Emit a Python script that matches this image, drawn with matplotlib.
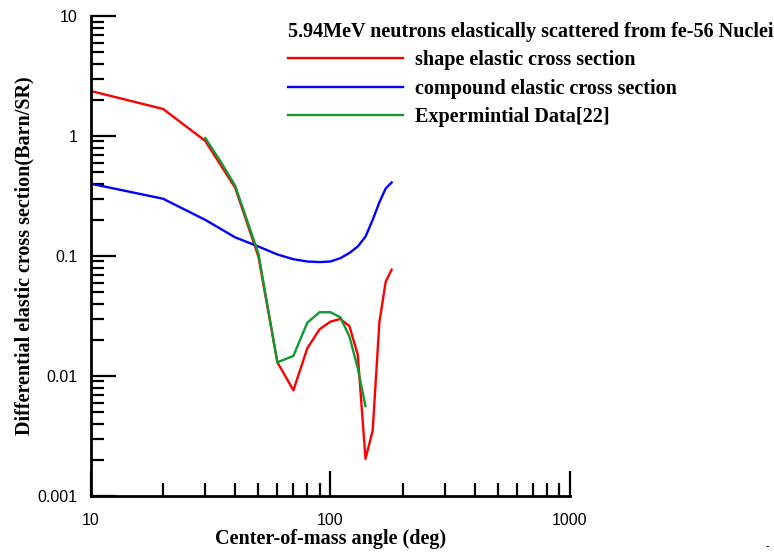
import numpy as np
import matplotlib
matplotlib.use('Agg')
import matplotlib.pyplot as plt
from matplotlib.ticker import LogLocator, FuncFormatter, NullFormatter

# angles (deg) and cross sections (barn/sr)
angle = [10, 20, 30, 40, 50, 60, 70, 80, 90, 100, 110, 120, 130, 140, 150, 160, 170, 180]
shape_xs = [2.37, 1.68, 0.91, 0.37, 0.099, 0.013, 0.0076, 0.017, 0.0245, 0.0284,
            0.0299, 0.026, 0.015, 0.00204, 0.0035, 0.028, 0.061, 0.077]
compound_xs = [0.40, 0.30, 0.20, 0.143, 0.12, 0.103, 0.094, 0.090, 0.089, 0.090,
               0.096, 0.106, 0.12, 0.145, 0.20, 0.28, 0.365, 0.41]

exp_angle = [30, 35, 40, 50, 60, 70, 80, 90, 100, 110, 120, 130, 140]
exp_xs = [0.96, 0.60, 0.385, 0.105, 0.013, 0.0147, 0.0278, 0.034, 0.034, 0.0308,
          0.0213, 0.0116, 0.0056]

labels = ['shape elastic cross section', 'compound elastic cross section', 'Expermintial Data[22]']
title = '5.94MeV neutrons elastically scattered from fe-56 Nuclei'

serif = 'Liberation Serif'
sans = 'Liberation Sans'
fsize = 14.5

fig = plt.figure(figsize=(7.74, 5.54), dpi=100)
ax = fig.add_axes([0.1176, 0.1047, 0.6188, 0.8664])

ax.plot(angle, shape_xs, color='#ff0000', lw=1.7, label=labels[0])
ax.plot(angle, compound_xs, color='#0000ff', lw=1.7, label=labels[1])
ax.plot(exp_angle, exp_xs, color='#119933', lw=1.7, label=labels[2])

ax.set_xscale('log')
ax.set_yscale('log')
ax.set_xlim(10, 1000)
ax.set_ylim(0.001, 10)

# spines - only left and bottom
for s in ['top', 'right']:
    ax.spines[s].set_visible(False)
for s in ['left', 'bottom']:
    ax.spines[s].set_linewidth(2.0)

ax.xaxis.set_major_locator(LogLocator(base=10))
ax.yaxis.set_major_locator(LogLocator(base=10))
ax.xaxis.set_minor_locator(LogLocator(base=10, subs=np.arange(2, 10)))
ax.yaxis.set_minor_locator(LogLocator(base=10, subs=np.arange(2, 10)))
fmt = FuncFormatter(lambda v, p: ('%g' % v))
ax.xaxis.set_major_formatter(fmt)
ax.yaxis.set_major_formatter(fmt)
ax.xaxis.set_minor_formatter(NullFormatter())
ax.yaxis.set_minor_formatter(NullFormatter())

ax.tick_params(which='major', direction='in', length=18, width=1.6, labelsize=11.5, pad=10)
ax.tick_params(which='minor', direction='in', length=9.5, width=1.6)
ax.tick_params(axis='x', which='major', pad=12)
for lab in ax.get_xticklabels() + ax.get_yticklabels():
    lab.set_fontfamily(sans)

ax.set_xlabel('Center-of-mass angle (deg)', fontfamily=serif, fontweight='bold', fontsize=fsize, labelpad=1)
ax.set_ylabel('Differential elastic cross section(Barn/SR)', fontfamily=serif, fontweight='bold',
              fontsize=fsize, labelpad=2)

leg = ax.legend(loc='upper left', bbox_to_anchor=(288 / 774, 1 - 22 / 554),
                bbox_transform=fig.transFigure, frameon=False, borderpad=0, borderaxespad=0,
                handlelength=5.7, handletextpad=0.6, labelspacing=0.42,
                title=title, alignment='left',
                prop={'family': serif, 'weight': 'bold', 'size': fsize},
                title_fontproperties={'family': serif, 'weight': 'bold', 'size': 14.5})

fig.text(0.993, 0.005, '-', fontsize=7, ha='right', va='bottom')

fig.savefig('out.png', dpi=100)
